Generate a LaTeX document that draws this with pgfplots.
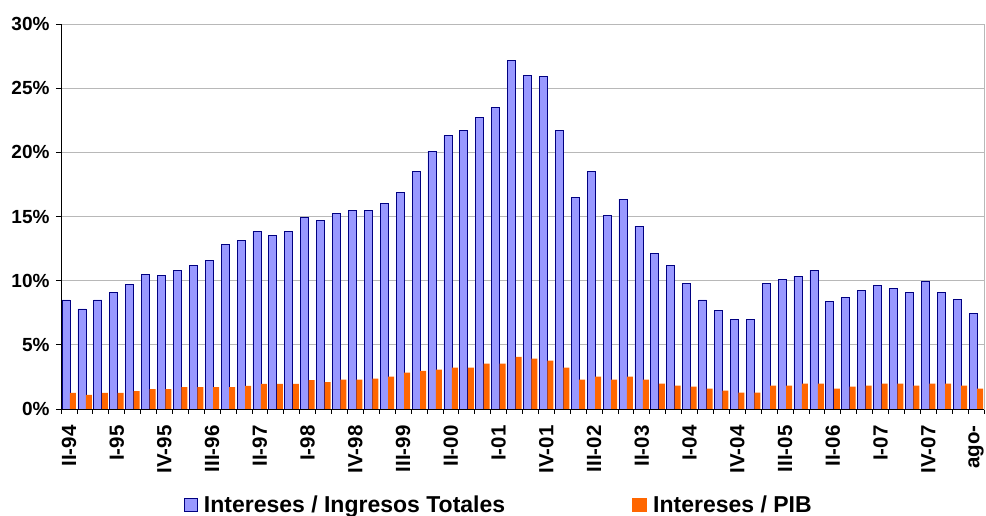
\documentclass[border=0pt]{standalone}
\usepackage{fontspec}
\setmainfont{Liberation Sans}
\usepackage{pgfplots}
\usepackage{pgfplotstable}
\pgfplotsset{compat=1.18}
\definecolor{barblue}{HTML}{9999FF}
\definecolor{edgeblue}{HTML}{000080}
\definecolor{barorange}{HTML}{FF6600}
\definecolor{gridgray}{HTML}{B8B8B8}
\pgfplotstableread{
x y
0 8.5
1 7.8
2 8.5
3 9.1
4 9.7
5 10.5
6 10.4
7 10.8
8 11.2
9 11.6
10 12.85
11 13.15
12 13.85
13 13.55
14 13.85
15 14.95
16 14.7
17 15.25
18 15.5
19 15.5
20 16.05
21 16.9
22 18.5
23 20.1
24 21.3
25 21.7
26 22.7
27 23.5
28 27.15
29 26.0
30 25.9
31 21.7
32 16.5
33 18.5
34 15.1
35 16.35
36 14.25
37 12.15
38 11.2
39 9.8
40 8.5
41 7.65
42 6.95
43 6.95
44 9.8
45 10.1
46 10.35
47 10.8
48 8.35
49 8.7
50 9.25
51 9.6
52 9.4
53 9.1
54 9.95
55 9.1
56 8.55
57 7.45
}\ingresos
\pgfplotstableread{
x y
0 1.25
1 1.1
2 1.25
3 1.25
4 1.4
5 1.55
6 1.55
7 1.7
8 1.7
9 1.7
10 1.7
11 1.8
12 1.95
13 1.95
14 1.95
15 2.25
16 2.1
17 2.28
18 2.28
19 2.36
20 2.52
21 2.83
22 2.98
23 3.06
24 3.22
25 3.22
26 3.53
27 3.53
28 4.07
29 3.92
30 3.76
31 3.22
32 2.28
33 2.52
34 2.28
35 2.52
36 2.28
37 1.97
38 1.82
39 1.74
40 1.58
41 1.43
42 1.27
43 1.27
44 1.82
45 1.82
46 1.97
47 1.97
48 1.58
49 1.74
50 1.82
51 1.97
52 1.97
53 1.82
54 1.97
55 1.97
56 1.82
57 1.58
}\pib
\begin{document}
\begin{tikzpicture}
\begin{axis}[
  scale only axis,
  width=923pt, height=385pt,
  xmin=-0.5, xmax=57.5,
  ymin=0, ymax=30,
  ytick={0,5,...,30},
  yticklabel={\pgfmathprintnumber{\tick}\%},
  /pgf/number format/assume math mode=true,
  yticklabel style={font=\fontsize{19}{19}\selectfont\bfseries, xshift=-3pt},
  xtick={0,3,...,57},
  xticklabels={II-94,I-95,IV-95,III-96,II-97,I-98,IV-98,III-99,II-00,I-01,IV-01,III-02,II-03,I-04,IV-04,III-05,II-06,I-07,IV-07,ago-},
  xticklabel style={font=\fontsize{20.5}{20.5}\selectfont\bfseries, rotate=90, anchor=east, xshift=-8pt},
  minor xtick={-0.5,0.5,...,57.5},
  major x tick style={draw=none},
  minor tick length=5pt,
  major tick length=5pt,
  tick align=outside,
  xtick pos=bottom, ytick pos=left,
  tick style={black, line width=0.8pt},
  ymajorgrids,
  grid style={gridgray, line width=0.9pt},
  axis line style={gridgray, line width=0.9pt},
  clip=false,
  legend style={at={(0.4745,-0.249)}, anchor=center, draw=none, fill=none,
    legend columns=2, font=\fontsize{23}{23}\selectfont\bfseries,
    /tikz/every odd column/.append style={column sep=4pt},
    /tikz/every even column/.append style={column sep=125pt}},
  legend cell align=left,
]
\addplot[ybar, bar width=8pt, bar shift=-3pt, fill=barblue, draw=edgeblue, line width=0.7pt,
  legend image code/.code={\draw[fill=barblue, draw=edgeblue, line width=0.7pt] (0pt,-6.5pt) rectangle (13pt,6.5pt);}]
  table[x=x,y=y]{\ingresos};
\addlegendentry{Intereses / Ingresos Totales}
\addplot[ybar, bar width=6pt, bar shift=4pt, fill=barorange, draw=none,
  legend image code/.code={\fill[barorange] (0pt,-7pt) rectangle (15pt,7pt);}]
  table[x=x,y=y]{\pib};
\addlegendentry{Intereses / PIB}
\draw[black, line width=0.9pt] (rel axis cs:0,0) -- (rel axis cs:0,1);
\draw[black, line width=0.9pt] (rel axis cs:0,0) -- (rel axis cs:1,0);
\end{axis}
\pgfresetboundingbox
\path (-61pt,-107pt) rectangle (925pt,409pt);
\end{tikzpicture}
\end{document}
